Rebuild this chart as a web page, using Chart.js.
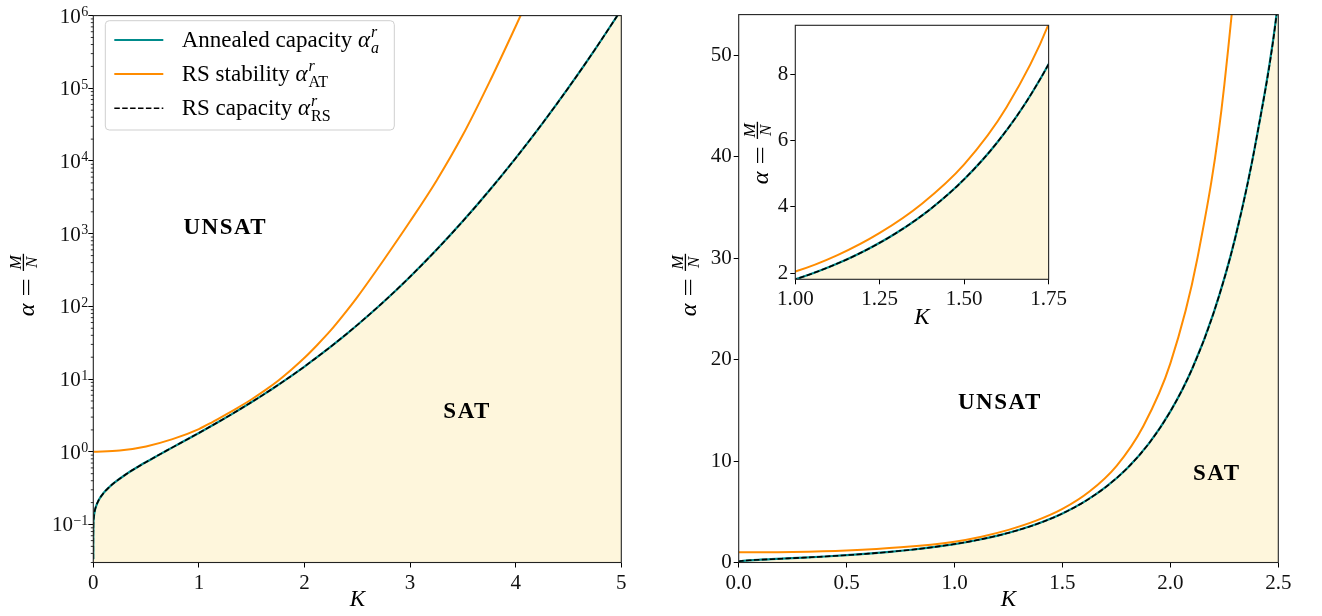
<!DOCTYPE html>
<html><head><meta charset="utf-8">
<script src="https://cdn.jsdelivr.net/npm/chart.js@4/dist/chart.umd.min.js"></script>
<style>
html,body{margin:0;padding:0;background:#fff;width:1322px;height:616px;overflow:hidden;}
canvas{position:absolute;}
#c1{left:0;top:0;} #c2{left:660px;top:0;} #c3{left:740px;top:10px;}
</style></head><body>
<canvas id="c1" width="660" height="616" style="width:660px;height:616px"></canvas>
<canvas id="c2" width="662" height="616" style="width:662px;height:616px"></canvas>
<canvas id="c3" width="330" height="330" style="width:330px;height:330px"></canvas>
<script>
// ---- data ----
const K_ANN = [1e-9, 1e-6, 1e-4, 0.001, 0.005, 0.01, 0.02, 0.05, 0.1, 0.15, 0.2, 0.3, 0.4, 0.5, 0.6, 0.7, 0.8, 0.9, 1.0, 1.1, 1.2, 1.3, 1.4, 1.5, 1.6, 1.7, 1.8, 1.9, 2.0, 2.1, 2.2, 2.3, 2.4, 2.5, 2.75, 3.0, 3.25, 3.5, 3.75, 4.0, 4.25, 4.5, 4.75, 5.0];
const ALPHA_ANN = [0.0332, 0.0497, 0.0735, 0.0972, 0.1255, 0.1435, 0.1675, 0.2151, 0.274, 0.3259, 0.3763, 0.4798, 0.5932, 0.7221, 0.8717, 1.048, 1.258, 1.510, 1.816, 2.190, 2.650, 3.221, 3.935, 4.833, 5.971, 7.425, 9.295, 11.72, 14.89, 19.05, 24.58, 31.97, 41.92, 55.46, 115.9, 256.4, 600, 1490, 3920, 10940, 32420, 102000, 340800, 1209000];
const ALPHA_RS = [0.0332, 0.0497, 0.0735, 0.0972, 0.1255, 0.1435, 0.1675, 0.2151, 0.274, 0.3259, 0.3763, 0.4798, 0.5932, 0.7221, 0.8717, 1.048, 1.258, 1.510, 1.816, 2.190, 2.650, 3.221, 3.935, 4.833, 5.971, 7.425, 9.295, 11.72, 14.89, 19.05, 24.58, 31.97, 41.92, 55.46, 115.9, 256.4, 600, 1490, 3920, 10940, 32420, 102000, 340800, 1209000];
const K_AT = [0, 0.25, 0.5, 0.75, 1.0, 1.125, 1.25, 1.375, 1.5, 1.625, 1.75, 1.875, 2.0, 2.125, 2.25, 2.375, 2.5, 2.75, 3.0, 3.25, 3.5, 3.75, 4.0, 4.1];
const ALPHA_AT = [1.0, 1.041, 1.185, 1.492, 2.054, 2.547, 3.216, 4.096, 5.280, 6.993, 9.507, 13.46, 19.63, 29.96, 47.08, 78.3, 134.3, 435, 1480, 5360, 22900, 120700, 714000, 1480000];
const LEFT_X_TICKS = [0, 1, 2, 3, 4, 5];
const LEFT_Y_DECADES = [-1, 0, 1, 2, 3, 4, 5, 6];

const TEAL = '#008b8b', ORANGE = '#ff8c00', FILL = '#fef6dc';
const SERIF = '"Liberation Serif", "DejaVu Serif", serif';

function pts(xs, ys, lo, hi) {
  const out = [];
  for (let i = 0; i < xs.length; i++) if (xs[i] >= lo && xs[i] <= hi) out.push({x: xs[i], y: ys[i]});
  return out;
}
function makeDatasets(lo, hi, loAT, hiAT) {
  return [
    {data: pts(K_ANN, ALPHA_RS, lo, hi), borderColor: '#000', borderWidth: 1.6, borderDash: [5.5, 2.4], order: 1, fill: false},
    {data: pts(K_AT, ALPHA_AT, loAT, hiAT), borderColor: ORANGE, borderWidth: 2, order: 2, fill: false},
    {data: pts(K_ANN, ALPHA_ANN, lo, hi), borderColor: TEAL, borderWidth: 2.2, order: 3, fill: false},
    {data: pts(K_ANN, ALPHA_ANN, lo, hi), borderColor: 'rgba(0,0,0,0)', borderWidth: 0, backgroundColor: FILL, fill: 'start', order: 4}
  ].map(d => Object.assign({pointRadius: 0, cubicInterpolationMode: 'monotone'}, d));
}
function isPow10(v) { if (!(v > 0)) return false; const l = Math.log10(v); return Math.abs(l - Math.round(l)) < 1e-6; }

function tickFont() { return {family: SERIF, size: 21}; }

function drawYLabel(ctx, cx, cy, fs) {
  ctx.save(); ctx.translate(cx, cy); ctx.rotate(-Math.PI / 2);
  const fr = Math.round(fs * 0.72);
  ctx.fillStyle = '#000'; ctx.textBaseline = 'alphabetic'; ctx.textAlign = 'left';
  ctx.font = `italic ${fs}px ${SERIF}`; const wA = ctx.measureText('α').width;
  ctx.font = `${fs}px ${SERIF}`; const eqScale = 1.35; const wEq = ctx.measureText('=').width * eqScale; const gap = fs * 0.3;
  ctx.font = `italic ${fr}px ${SERIF}`; const wM = ctx.measureText('M').width, wN = ctx.measureText('N').width;
  const wF = Math.max(wM, wN) + 3;
  const total = wA + gap + wEq + gap + wF;
  let x = -total / 2; const base = fs * 0.3;
  ctx.font = `italic ${fs}px ${SERIF}`; ctx.fillText('α', x, base); x += wA + gap;
  ctx.font = `${fs}px ${SERIF}`;
  ctx.save(); ctx.translate(x, base); ctx.scale(eqScale, 1); ctx.fillText('=', 0, 0); ctx.restore();
  x += wEq + gap;
  const bar = base - fs * 0.45;
  ctx.fillRect(x, bar - 0.65, wF, 1.3);
  ctx.font = `italic ${fr}px ${SERIF}`;
  ctx.fillText('M', x + (wF - wM) / 2, bar - 2.5);
  ctx.fillText('N', x + (wF - wN) / 2, bar + 2.5 + fr * 0.66);
  ctx.restore();
}
function drawMathAlpha(ctx, x, base, sub, subItalic, fs) {
  const fr = Math.round(fs * 0.7);
  ctx.font = `italic ${fs}px ${SERIF}`; ctx.fillText('α', x, base);
  x += ctx.measureText('α').width + 1;
  ctx.font = `italic ${fr}px ${SERIF}`; ctx.fillText('r', x, base - fs * 0.42);
  ctx.font = `${subItalic ? 'italic ' : ''}${fr}px ${SERIF}`; ctx.fillText(sub, x, base + fs * 0.25);
}
function drawLegend(ctx, L) {
  ctx.save();
  ctx.beginPath();
  ctx.roundRect(L.x, L.y, L.w, L.h, 4);
  ctx.fillStyle = 'rgba(255,255,255,0.85)'; ctx.fill();
  ctx.strokeStyle = '#cfcfcf'; ctx.lineWidth = 1; ctx.stroke();
  const rows = [
    {color: TEAL, dash: [], lw: 2.2, text: 'Annealed capacity ', sub: 'a', it: true},
    {color: ORANGE, dash: [], lw: 2, text: 'RS stability ', sub: 'AT', it: false},
    {color: '#000', dash: [5.5, 2.4], lw: 1.6, text: 'RS capacity ', sub: 'RS', it: false}
  ];
  rows.forEach((r, i) => {
    const y = L.rowY[i];
    ctx.beginPath(); ctx.setLineDash(r.dash); ctx.strokeStyle = r.color; ctx.lineWidth = r.lw;
    ctx.moveTo(L.lineX0, y); ctx.lineTo(L.lineX1, y); ctx.stroke();
    ctx.setLineDash([]);
    ctx.fillStyle = '#000'; ctx.textAlign = 'left'; ctx.textBaseline = 'alphabetic';
    ctx.font = `${L.fs}px ${SERIF}`;
    ctx.fillText(r.text, L.textX, y + 7);
    const w = ctx.measureText(r.text).width;
    drawMathAlpha(ctx, L.textX + w, y + 7, r.sub, r.it, L.fs);
  });
  ctx.restore();
}

const decor = {
  id: 'decor',
  beforeDraw(chart, args, o) {
    if (o.whiteArea) {
      const a = chart.chartArea, ctx = chart.ctx;
      ctx.save(); ctx.fillStyle = '#fff'; ctx.fillRect(a.left, a.top, a.right - a.left, a.bottom - a.top); ctx.restore();
    }
  },
  afterDraw(chart, args, o) {
    const ctx = chart.ctx, a = chart.chartArea, xs = chart.scales.x, ys = chart.scales.y;
    ctx.save();
    ctx.strokeStyle = '#222'; ctx.lineWidth = 1.1;
    ctx.strokeRect(a.left, a.top, a.right - a.left, a.bottom - a.top);
    if (o.logAxis) {
      ctx.beginPath(); ctx.strokeStyle = '#000'; ctx.lineWidth = 0.8;
      for (let n = -2; n <= 6; n++) for (let m = 2; m <= 9; m++) {
        const v = m * Math.pow(10, n);
        if (v < ys.min || v > ys.max) continue;
        const y = ys.getPixelForValue(v);
        ctx.moveTo(a.left - 2.5, y); ctx.lineTo(a.left, y);
      }
      ctx.stroke();
      ctx.fillStyle = '#111'; ctx.textBaseline = 'alphabetic'; ctx.textAlign = 'left';
      LEFT_Y_DECADES.forEach(n => {
        const y = ys.getPixelForValue(Math.pow(10, n));
        const e = n < 0 ? '−' + (-n) : String(n);
        ctx.font = `14px ${SERIF}`; const we = ctx.measureText(e).width;
        ctx.font = `21px ${SERIF}`; const wb = ctx.measureText('10').width;
        const right = a.left - 5;
        ctx.fillText('10', right - we - wb - 0.5, y + 7);
        ctx.font = `14px ${SERIF}`; ctx.fillText(e, right - we, y + 0.5);
      });
    }
    ctx.fillStyle = '#000'; ctx.textAlign = 'center'; ctx.textBaseline = 'middle';
    ctx.font = `italic 23px ${SERIF}`;
    ctx.fillText('K', (a.left + a.right) / 2, o.xLabelY);
    drawYLabel(ctx, o.yLabelX, o.yLabelY, 24);
    (o.texts || []).forEach(t => {
      ctx.font = `bold 23px ${SERIF}`; ctx.letterSpacing = '1.5px';
      ctx.textAlign = 'center'; ctx.textBaseline = 'middle'; ctx.fillStyle = '#000';
      ctx.fillText(t.s, xs.getPixelForValue(t.x), ys.getPixelForValue(t.y));
      ctx.letterSpacing = '0px';
    });
    if (o.legend) drawLegend(ctx, o.legend);
    ctx.restore();
  }
};

function baseAxis() {
  return {
    grid: {drawOnChartArea: false, drawTicks: true, tickLength: 5, tickWidth: 1, tickColor: '#000'},
    border: {display: false},
    ticks: {color: '#111', font: tickFont(), padding: 3, autoSkip: false, maxRotation: 0}
  };
}

// ---- left panel (log scale) ----
const lx = baseAxis();
Object.assign(lx, {type: 'linear', min: 0, max: 5, afterFit: s => { s.height = 53.5; },
  afterBuildTicks: s => { s.ticks = LEFT_X_TICKS.map(v => ({value: v})); }});
lx.ticks.callback = v => String(v);
const ly = baseAxis();
Object.assign(ly, {type: 'logarithmic', min: 0.03, max: 1e6, afterFit: s => { s.width = 93.3; }});
ly.grid.tickColor = c => (c.tick && isPow10(c.tick.value)) ? '#000' : 'rgba(0,0,0,0)';
ly.ticks.callback = () => '';

new Chart(document.getElementById('c1'), {
  type: 'line',
  data: {datasets: makeDatasets(-1, 6, -1, 6)},
  options: {
    responsive: false, animation: false, events: [],
    layout: {padding: {top: 9, right: 38.7, left: 0, bottom: 0}},
    scales: {x: lx, y: ly},
    plugins: {
      legend: {display: false}, tooltip: {enabled: false},
      decor: {
        logAxis: true, xLabelY: 600, yLabelX: 27, yLabelY: 285,
        texts: [{s: 'UNSAT', x: 1.25, y: 1200}, {s: 'SAT', x: 3.54, y: 3.5}],
        legend: {x: 105.3, y: 20.7, w: 289, h: 109.3, rowY: [40, 74, 108.3], lineX0: 114.3, lineX1: 163.3, textX: 181.7, fs: 23}
      }
    }
  },
  plugins: [decor]
});

// ---- right panel (linear scale) ----
const rx = baseAxis();
Object.assign(rx, {type: 'linear', min: 0, max: 2.5, afterFit: s => { s.height = 53.5; }});
rx.ticks.stepSize = 0.5; rx.ticks.callback = v => v.toFixed(1);
const ry = baseAxis();
Object.assign(ry, {type: 'linear', min: 0, max: 54, afterFit: s => { s.width = 78.7; }});
ry.ticks.stepSize = 10; ry.ticks.includeBounds = false; ry.ticks.padding = 2;

new Chart(document.getElementById('c2'), {
  type: 'line',
  data: {datasets: makeDatasets(-1, 2.75, -1, 2.5)},
  options: {
    responsive: false, animation: false, events: [],
    layout: {padding: {top: 5.7, right: 43.7, left: 0, bottom: 0}},
    scales: {x: rx, y: ry},
    plugins: {
      legend: {display: false}, tooltip: {enabled: false},
      decor: {xLabelY: 600, yLabelX: 29, yLabelY: 285,
        texts: [{s: 'UNSAT', x: 1.21, y: 15.7}, {s: 'SAT', x: 2.215, y: 8.7}]}
    }
  },
  plugins: [decor]
});

// ---- inset ----
const ix = baseAxis();
Object.assign(ix, {type: 'linear', min: 1, max: 1.75, afterFit: s => { s.height = 60.7; }});
ix.ticks.stepSize = 0.25; ix.ticks.callback = v => v.toFixed(2);
const iy = baseAxis();
Object.assign(iy, {type: 'linear', min: 1.82, max: 9.47, afterFit: s => { s.width = 55.3; }});
iy.ticks.stepSize = 2; iy.ticks.includeBounds = false; iy.ticks.padding = 2;

new Chart(document.getElementById('c3'), {
  type: 'line',
  data: {datasets: makeDatasets(0.9, 1.9, 0.75, 2.0)},
  options: {
    responsive: false, animation: false, events: [],
    layout: {padding: {top: 15.3, right: 20.7, left: 0, bottom: 0}},
    scales: {x: ix, y: iy},
    plugins: {
      legend: {display: false}, tooltip: {enabled: false},
      decor: {whiteArea: true, xLabelY: 308, yLabelX: 21, yLabelY: 143}
    }
  },
  plugins: [decor]
});
</script>
</body></html>
